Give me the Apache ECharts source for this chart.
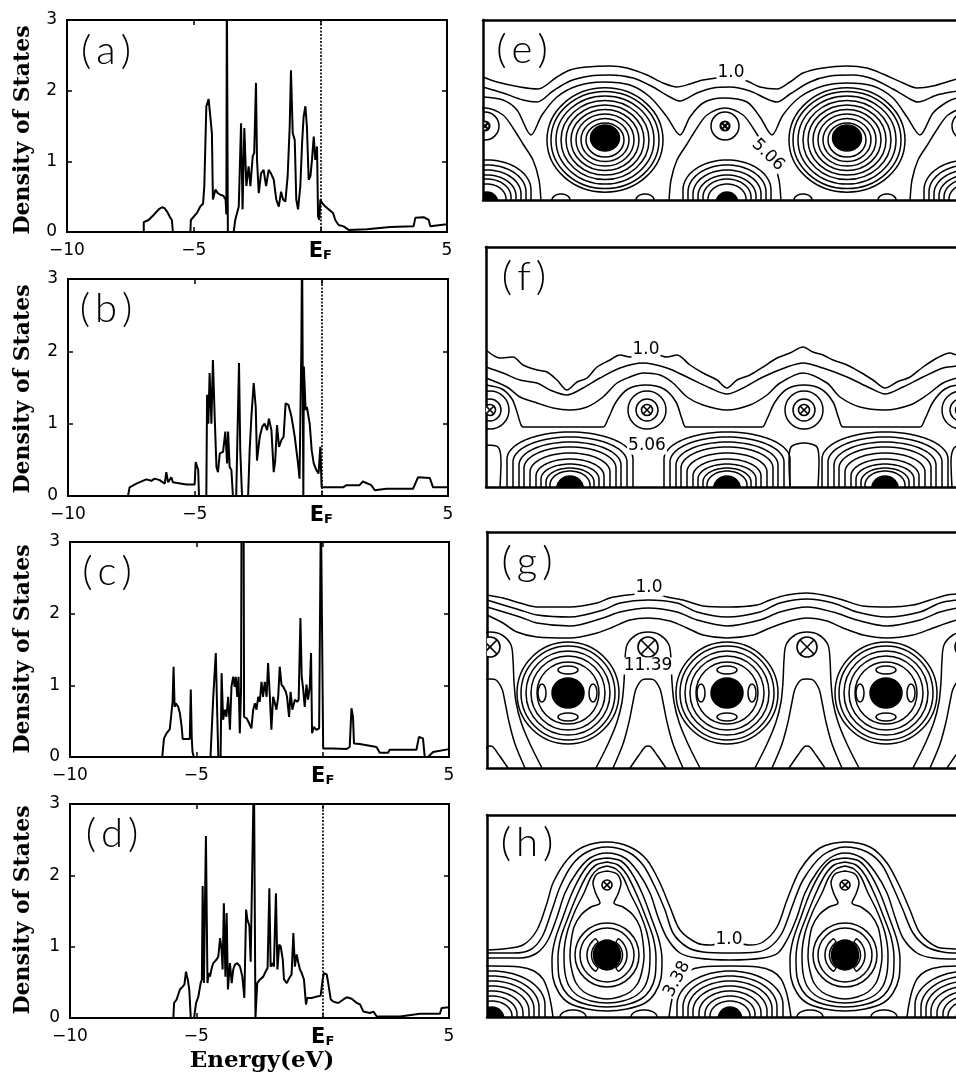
<!DOCTYPE html>
<html>
<head>
<meta charset="utf-8">
<script src="https://cdn.jsdelivr.net/npm/echarts@6/dist/echarts.min.js"></script>
<style>
html,body{margin:0;padding:0;background:#fff}
#chart{width:956px;height:1076px}
</style>
</head>
<body>
<div id="chart"></div>
<script>
// ---------- Density of states, energy measured from E_F (eV) ----------
const energyTicks = [-10, -5, 0, 5];
const energyTickText = ['\u221210', '\u22125', 'EF', '5'];
const dosTicks = [0, 1, 2, 3];
const panelNames = ['(a)', '(b)', '(c)', '(d)', '(e)', '(f)', '(g)', '(h)'];

const dosA = [[-10,0],[-6.97,0],[-6.97,0.14],[-6.78,0.17],[-6.58,0.24],[-6.38,0.32],[-6.25,0.35],[-6.16,0.34],[-6.05,0.29],[-5.92,0.20],[-5.86,0.17],[-5.82,0],[-5.13,0],[-5.11,0.17],[-4.87,0.27],[-4.74,0.36],[-4.63,0.40],[-4.58,0.65],[-4.50,1.78],[-4.41,1.88],[-4.34,1.87],[-4.28,1.40],[-4.24,0.46],[-4.14,0.60],[-4.05,0.55],[-3.95,0.53],[-3.82,0.51],[-3.74,0.46],[-3.71,0.25],[-3.69,3.5],[-3.66,3.5],[-3.65,0],[-3.42,0],[-3.36,0.17],[-3.22,0.36],[-3.13,1.54],[-3.07,0.32],[-3.00,1.47],[-2.92,0.65],[-2.83,0.93],[-2.76,0.65],[-2.67,1.07],[-2.61,1.12],[-2.54,2.11],[-2.50,1.02],[-2.43,0.55],[-2.34,0.83],[-2.24,0.88],[-2.14,0.65],[-2.04,0.88],[-1.95,0.83],[-1.84,0.74],[-1.74,0.46],[-1.64,0.36],[-1.55,0.57],[-1.47,0.46],[-1.38,0.43],[-1.29,0.79],[-1.21,1.49],[-1.16,2.29],[-1.09,1.40],[-1.01,1.30],[-0.95,0.46],[-0.88,0.32],[-0.79,0.65],[-0.72,1.26],[-0.66,1.63],[-0.59,1.78],[-0.53,1.49],[-0.46,0.74],[-0.39,0.79],[-0.33,1.02],[-0.26,1.35],[-0.20,1.02],[-0.13,1.21],[-0.09,0.22],[-0.04,0.17],[0.00,0.46],[0.07,0.41],[0.20,0.36],[0.33,0.32],[0.50,0.27],[0.59,0.17],[0.72,0.10],[0.92,0.08],[1.12,0.03],[1.84,0.04],[2.76,0.07],[3.68,0.08],[3.75,0.20],[4.08,0.21],[4.28,0.17],[4.34,0.08],[5.00,0.11]];

const dosB = [[-10,0],[-7.63,0],[-7.57,0.12],[-7.30,0.17],[-6.91,0.23],[-6.71,0.21],[-6.58,0.24],[-6.38,0.22],[-6.18,0.17],[-6.12,0.33],[-6.05,0.19],[-5.92,0.26],[-5.86,0.19],[-5.79,0.17],[-5.33,0.16],[-5.00,0.16],[-4.96,0.47],[-4.91,0.45],[-4.86,0.36],[-4.83,0],[-4.54,0],[-4.51,1.40],[-4.46,1.00],[-4.41,1.70],[-4.34,1.00],[-4.28,1.88],[-4.21,1.10],[-4.14,0.40],[-4.08,0.33],[-4.01,0.59],[-3.88,0.61],[-3.79,0.89],[-3.72,0.45],[-3.68,0.89],[-3.62,0.40],[-3.55,0.36],[-3.49,0],[-3.36,0],[-3.32,0.68],[-3.25,1.84],[-3.20,0.63],[-3.13,0],[-2.89,0],[-2.83,0.63],[-2.76,1.10],[-2.67,1.56],[-2.59,1.23],[-2.54,0.49],[-2.43,0.82],[-2.33,0.96],[-2.24,1.00],[-2.14,0.91],[-2.07,1.07],[-1.97,0.91],[-1.88,0.33],[-1.82,0.49],[-1.75,0.98],[-1.67,0.68],[-1.58,0.77],[-1.49,0.82],[-1.41,1.28],[-1.30,1.26],[-1.18,1.10],[-1.05,0.82],[-0.92,0.45],[-0.86,0.24],[-0.79,2.02],[-0.76,3.5],[-0.72,3.5],[-0.71,0],[-0.69,1.79],[-0.62,1.19],[-0.57,1.23],[-0.46,1.00],[-0.38,0.63],[-0.30,0.45],[-0.20,0.36],[-0.11,0.31],[-0.04,0.68],[0.01,0.12],[0.86,0.12],[0.99,0.15],[1.51,0.15],[1.64,0.20],[1.97,0.15],[2.11,0.08],[2.57,0.10],[3.62,0.10],[3.82,0.26],[4.28,0.25],[4.41,0.12],[5.00,0.12]];

const dosC = [[-10,0],[-6.35,0],[-6.28,0.26],[-6.18,0.33],[-6.05,0.39],[-5.98,0.40],[-5.94,0.77],[-5.90,1.26],[-5.86,0.70],[-5.81,0.75],[-5.72,0.70],[-5.65,0.61],[-5.58,0.42],[-5.54,0.25],[-5.26,0.25],[-5.22,0.94],[-5.18,0.25],[-5.15,0.07],[-5.10,0],[-4.44,0],[-4.33,0.84],[-4.23,1.45],[-4.17,0.56],[-4.13,0],[-4.04,0],[-4.00,1.17],[-3.94,0.52],[-3.87,0.66],[-3.81,0.56],[-3.74,0.84],[-3.67,0.38],[-3.61,0.98],[-3.54,1.12],[-3.48,0.98],[-3.44,1.12],[-3.38,0.84],[-3.33,1.12],[-3.28,0.33],[-3.23,0.94],[-3.21,3.5],[-3.13,3.5],[-3.11,0.56],[-3.01,0.54],[-2.91,0.47],[-2.82,0.40],[-2.75,0.66],[-2.68,0.75],[-2.62,0.66],[-2.55,0.84],[-2.49,0.77],[-2.42,1.05],[-2.36,0.84],[-2.29,1.05],[-2.22,0.84],[-2.16,1.31],[-2.09,0.84],[-2.03,0.38],[-1.96,0.84],[-1.89,0.75],[-1.83,0.66],[-1.76,0.84],[-1.70,1.26],[-1.63,1.01],[-1.56,0.98],[-1.46,0.91],[-1.41,0.84],[-1.33,0.56],[-1.27,0.91],[-1.20,0.66],[-1.10,0.80],[-1.01,0.77],[-0.95,0.80],[-0.88,1.94],[-0.83,1.12],[-0.77,0.94],[-0.71,0.70],[-0.64,1.01],[-0.58,0.80],[-0.51,0.98],[-0.46,1.45],[-0.42,0.33],[-0.35,0.42],[-0.25,0.38],[-0.14,0.40],[-0.09,0.38],[-0.07,3.5],[0.00,3.5],[0.02,0.12],[0.41,0.12],[0.94,0.11],[1.07,0.14],[1.14,0.68],[1.20,0.56],[1.24,0.19],[1.47,0.18],[2.13,0.14],[2.26,0.06],[2.59,0.06],[2.65,0.10],[3.71,0.10],[3.81,0.28],[3.97,0.26],[4.04,0],[4.17,0],[4.37,0.07],[5.00,0.11]];

const dosD = [[-10,0],[-5.91,0],[-5.88,0.21],[-5.78,0.26],[-5.65,0.40],[-5.54,0.44],[-5.47,0.47],[-5.41,0.65],[-5.34,0.54],[-5.28,0.40],[-5.22,0],[-5.09,0],[-5.01,0.21],[-4.92,0.30],[-4.83,0.49],[-4.78,0.54],[-4.75,1.85],[-4.70,0.49],[-4.66,1.57],[-4.62,2.55],[-4.56,0.49],[-4.51,0.63],[-4.46,0.58],[-4.39,0.70],[-4.33,0.77],[-4.20,0.82],[-4.13,0.86],[-4.06,1.12],[-4.00,0.96],[-3.96,0.68],[-3.91,1.61],[-3.85,0.58],[-3.80,1.47],[-3.75,0.40],[-3.67,0.77],[-3.60,0.49],[-3.54,0.68],[-3.47,0.75],[-3.38,0.77],[-3.27,0.72],[-3.18,0.58],[-3.10,0.28],[-3.03,1.52],[-2.98,1.38],[-2.90,1.29],[-2.85,0.79],[-2.78,0.79],[-2.72,3.5],[-2.68,3.5],[-2.66,0],[-2.59,0.49],[-2.48,0.54],[-2.35,0.58],[-2.26,0.65],[-2.18,0.70],[-2.11,1.82],[-2.06,0.72],[-1.98,0.77],[-1.93,0.72],[-1.85,1.75],[-1.79,0.68],[-1.72,1.03],[-1.66,1.00],[-1.58,0.82],[-1.53,0.54],[-1.42,0.49],[-1.32,0.56],[-1.23,0.61],[-1.16,1.19],[-1.10,0.72],[-1.03,0.89],[-0.96,0.77],[-0.90,0.68],[-0.83,0.63],[-0.74,0.54],[-0.66,0.19],[-0.61,0.28],[-0.44,0.28],[-0.24,0.30],[-0.08,0.31],[0.00,0.54],[0.05,0.63],[0.16,0.61],[0.22,0.49],[0.32,0.26],[0.42,0.23],[0.62,0.21],[0.82,0.26],[0.95,0.29],[1.15,0.27],[1.35,0.21],[1.48,0.19],[1.61,0.09],[1.87,0.07],[2.01,0.09],[2.14,0.02],[3.06,0.02],[3.85,0.06],[4.64,0.06],[4.71,0.14],[5.00,0.15]];

const dosSets = [dosA, dosB, dosC, dosD];
const fermiLineShown = [true, true, false, true];

// ---------- Charge-density maps (in-plane length units, y measured downward) ----------
// (e)
const eBigAtoms = [[122, 118], [364, 118]];
const eRingCentres = [[122, 120], [364, 120]];
const eBigRings = [19, 24, 29, 34, 39, 44, 49, 54, 58];
const eCrossSites = [2, 242, 483];
const eCrossY = 106;
const eBottomSites = [4, 244, 485];
const eArches = [[44, 40, 30], [39, 35, 27], [34, 30, 24], [29, 25, 21], [24, 21, 18], [19, 16, 15]];
const eBumps = [78, 162, 320, 404];
const eL1 = [[0,57],[14,62],[37,67],[55,69],[74,57],[87,50],[104,47],[127,46],[144,48],[164,55],[180,63],[194,67],[207,64],[220,60],[247,57],[264,61],[277,67],[294,69],[307,62],[320,53],[340,48],[364,46],[384,48],[400,54],[420,63],[434,68],[450,66],[474,59],[490,56]];
const eL2 = [[0,67],[20,73],[40,80],[54,82],[70,71],[87,61],[107,56],[127,55],[150,58],[170,67],[187,77],[197,81],[214,73],[230,68],[247,67],[267,71],[284,79],[294,82],[307,74],[327,62],[347,56],[370,55],[390,59],[410,69],[427,79],[435,82],[454,75],[474,71],[490,68]];
const eL3 = [[0,77],[20,80],[34,90],[48,115],[59,95],[74,77],[94,66],[120,62],[147,65],[167,77],[184,97],[197,115],[207,97],[220,83],[240,78],[264,82],[277,97],[289,115],[300,95],[317,77],[340,66],[364,63],[390,66],[410,78],[424,97],[437,115],[450,93],[464,82],[474,78],[490,77]];
const eWrap = [[-56,182],[-54,160],[-48,140],[-38,124],[-28,108],[-18,95],[0,88],[18,95],[28,108],[38,124],[48,140],[54,160],[56,182]];
const eLabels = [[248, 53, '1.0', 0], [285, 135, '5.06', -44]];

// (f)
const fCrossSites = [4, 161, 318, 475];
const fCrossY = 163;
const fCrossRings = [11, 19];
const fBottomSites = [84, 241, 399];
const fArches = [[63, 55, 27], [57, 50, 25], [51, 45, 23], [46, 40, 21], [40, 34, 19], [34, 28, 17], [29, 23, 15], [24, 19, 14], [20, 16, 14]];
const fL1 = [[0,103],[14,111],[27,110],[37,118],[51,123],[61,125],[71,133],[81,143],[91,135],[101,131],[111,120],[124,113],[134,108],[144,110],[160,104],[181,110],[191,108],[204,118],[217,126],[231,133],[241,141],[251,133],[264,128],[277,120],[291,111],[304,106],[317,100],[327,105],[337,108],[347,113],[361,118],[374,125],[387,133],[399,141],[411,135],[424,130],[437,120],[451,111],[464,106],[471,108],[490,104]];
const fL2 = [[0,120],[17,126],[34,133],[51,136],[64,143],[81,148],[97,141],[114,131],[134,121],[157,116],[181,121],[201,130],[224,141],[241,147],[257,141],[277,130],[301,120],[317,116],[337,121],[361,130],[384,141],[399,147],[417,140],[437,130],[457,121],[471,119],[490,118]];
const fL3 = [[0,131],[21,140],[34,150],[51,156],[67,161],[84,163],[101,160],[117,150],[131,136],[144,130],[157,126],[174,128],[187,136],[201,150],[217,158],[241,163],[264,158],[281,148],[294,136],[317,126],[341,136],[354,150],[374,160],[399,163],[424,158],[441,148],[457,136],[471,131],[490,127]];
const fL4 = [[0,138],[16,142],[26,152],[31,165],[34,175],[37,180],[117,180],[122,172],[130,155],[142,142],[160,138],[178,142],[190,155],[196,172],[200,180],[276,180],[281,172],[289,155],[301,142],[318,138],[335,142],[347,155],[353,172],[357,180],[434,180],[439,172],[447,155],[459,142],[475,138],[490,140]];
const fPockets = [
  [[0,198],[12,200],[15,215],[14,240]],
  [[304,240],[303,215],[305,200],[318,196],[331,200],[333,215],[332,240]],
  [[466,240],[465,215],[468,201],[478,197],[490,199]]
];
const fLabels = [[160, 103, '1.0', 0], [161, 199, '5.06', 0]];

// (g)
const gBigSites = [81, 240, 399];
const gBigY = 161;
const gBigRings = [31, 37, 42, 47, 51];
const gLobes = [[0, -23, 10, 4], [0, 24, 10, 4], [-26, 0, 4, 9], [25, 0, 4, 9]];
const gCrossSites = [3, 161, 320, 478];
const gCrossY = 115;
const gL1 = [[0,63],[16,66],[33,71],[50,75],[83,75],[110,71],[123,66],[140,63],[150,62],[162,61],[180,65],[196,68],[216,74],[243,75],[270,73],[283,68],[300,63],[320,61],[336,63],[356,68],[376,74],[403,75],[426,73],[443,68],[460,63],[470,62],[490,60]];
const gL2 = [[0,68],[33,78],[50,83],[83,85],[116,78],[133,71],[161,68],[190,71],[210,80],[240,85],[273,80],[293,71],[320,67],[346,71],[370,80],[400,85],[433,80],[453,71],[470,68],[490,66]];
const gL3 = [[0,75],[33,85],[50,91],[83,94],[116,86],[133,80],[161,76],[190,80],[210,88],[240,94],[273,88],[293,80],[320,75],[346,80],[370,88],[400,94],[433,88],[453,80],[470,76],[490,74]];
const gL4 = [[0,83],[16,91],[30,100],[50,105],[83,106],[110,101],[126,95],[143,88],[161,86],[183,89],[200,96],[216,103],[240,106],[266,103],[283,96],[303,89],[320,86],[340,89],[356,96],[376,103],[400,106],[426,103],[446,96],[463,90],[470,88],[490,85]];
const gArch = [[-52,236],[-40,212],[-31,190],[-26,170],[-24,150],[-23,128],[-21,113],[-12,103],[0,100],[12,103],[21,113],[23,128],[24,150],[26,170],[31,190],[40,212],[52,236]];
const gInner = [[-35,236],[-25,212],[-19,190],[-15,170],[-12,157],[-6,148],[0,147],[6,148],[12,157],[15,170],[19,190],[25,212],[35,236]];
const gPeak = [[-18,236],[-9,223],[-3,215],[0,214],[3,215],[9,223],[18,236]];
const gLabels = [[162, 56, '1.0', 0], [161, 134, '11.39', 0]];

// (h)
const hBigSites = [120, 358];
const hBigY = 140;
const hCrossY = 70;
const hBigRings = [27, 32];
const hBottomSites = [5, 243, 481];
const hArches = [[53, 46, 34], [47, 41, 31], [42, 36, 28], [37, 31, 25], [31, 26, 22], [25, 21, 18], [20, 16, 15]];
const hBumps = [86, 157, 323, 397];
const hL1 = [[0,135],[16,134],[36,130],[50,115],[60,88],[66,68],[80,45],[96,32],[120,27],[143,32],[160,45],[173,68],[183,92],[193,115],[210,128],[223,130],[243,127],[263,130],[276,127],[290,112],[300,85],[313,55],[333,33],[358,27],[383,32],[400,48],[413,72],[423,95],[433,118],[450,132],[470,134],[490,135]];
const hL2 = [[0,138],[26,138],[43,135],[55,122],[65,95],[73,72],[85,50],[100,37],[120,32],[141,37],[156,50],[168,72],[178,95],[186,118],[200,132],[216,137],[243,138],[270,137],[283,132],[295,118],[305,92],[316,65],[336,40],[358,32],[380,37],[395,50],[406,72],[416,95],[426,118],[440,132],[456,137],[470,138],[490,138]];
const hL3 = [[0,143],[33,143],[50,138],[61,125],[70,102],[78,78],[90,57],[103,43],[120,38],[138,43],[151,57],[163,78],[171,102],[180,123],[193,138],[210,143],[243,145],[276,143],[291,138],[301,123],[310,102],[318,78],[330,57],[343,43],[358,38],[375,43],[388,57],[400,78],[408,102],[416,123],[430,138],[446,143],[470,144],[490,144]];
const hBell4 = [[0,43],[14,46],[24,57],[35,78],[44,102],[52,125],[55,145],[54,163],[48,178],[38,188],[20,194],[0,196],[-20,194],[-38,188],[-48,178],[-54,163],[-55,145],[-52,125],[-44,102],[-35,78],[-24,57],[-14,46],[0,43]];
const hBell5 = [[0,47],[11,50],[20,60],[29,78],[38,100],[46,122],[49,143],[48,162],[43,175],[34,184],[18,190],[0,192],[-18,190],[-34,184],[-43,175],[-48,162],[-49,143],[-46,122],[-38,100],[-29,78],[-20,60],[-11,50],[0,47]];
const hBell6 = [[0,51],[9,54],[16,62],[23,78],[32,96],[40,118],[43,140],[42,158],[38,171],[30,180],[16,186],[0,188],[-16,186],[-30,180],[-38,171],[-42,158],[-43,140],[-40,118],[-32,96],[-23,78],[-16,62],[-9,54],[0,51]];
const hKeyhole = [[0,56],[10,59],[14,68],[11,79],[7,88],[16,92],[26,100],[33,112],[36,127],[37,141],[35,156],[31,168],[23,177],[12,182],[0,184],[-12,182],[-23,177],[-31,168],[-35,156],[-37,141],[-36,127],[-33,112],[-26,100],[-16,92],[-7,88],[-11,79],[-14,68],[-10,59],[0,56]];
const hRidge = [[-61,202],[-59,189],[-56,176],[-51,164],[-42,156],[-28,152],[0,151],[28,152],[42,156],[51,164],[56,176],[59,189],[61,202]];
const hLabels = [[242, 125, '1.0', 0], [190, 164, '3.38', 62]];

// ---------- layout ----------
const CANVAS_W = 956;
const dosGrids = [
  {left: 67, top: 20, width: 380, height: 212},
  {left: 68, top: 279, width: 380, height: 217},
  {left: 70, top: 542, width: 379, height: 215},
  {left: 70, top: 804, width: 379, height: 214}
];
// map frames run off the right-hand edge of the page
const mapGrids = [
  {left: 483, top: 20, height: 180},
  {left: 486, top: 247, height: 240},
  {left: 487, top: 532, height: 236},
  {left: 487, top: 815, height: 202}
];

const INK = '#000';
const TICK_FONT = '"DejaVu Sans", "Liberation Sans", sans-serif';
const grid = [], xAxis = [], yAxis = [], series = [];

// DOS panels
dosGrids.forEach((g, i) => {
  grid.push(Object.assign({show: true, borderColor: INK, borderWidth: 2, backgroundColor: 'transparent'}, g));
  const tick = {show: true, inside: true, length: 5, lineStyle: {color: INK, width: 1.5}};
  const xBase = {gridIndex: i, type: 'value', min: -10, max: 5, interval: 5,
    splitLine: {show: false}, axisLine: {show: false, onZero: false}, axisTick: tick};
  xAxis.push(Object.assign({}, xBase, {position: 'bottom',
    axisLabel: {show: true, color: INK, fontSize: 17, fontFamily: TICK_FONT, margin: 10,
      formatter: v => {
        const t = energyTickText[energyTicks.indexOf(v)];
        return t === 'EF' ? '{e|E}{f|F}' : t;
      },
      rich: {
        e: {fontSize: 21, fontWeight: 'bold', fontFamily: TICK_FONT, color: INK, verticalAlign: 'bottom', lineHeight: 20},
        f: {fontSize: 13, fontWeight: 'bold', fontFamily: TICK_FONT, color: INK, verticalAlign: 'bottom', lineHeight: 14}
      }}}));
  xAxis.push(Object.assign({}, xBase, {position: 'top', axisLabel: {show: false}}));
  const yBase = {gridIndex: i, type: 'value', min: dosTicks[0], max: dosTicks[dosTicks.length - 1], interval: 1,
    splitLine: {show: false}, axisLine: {show: false, onZero: false}, axisTick: tick};
  yAxis.push(Object.assign({}, yBase, {position: 'left',
    axisLabel: {show: true, color: INK, fontSize: 17, fontFamily: TICK_FONT, margin: 10}}));
  yAxis.push(Object.assign({}, yBase, {position: 'right', axisLabel: {show: false}}));

  const s = {type: 'line', xAxisIndex: 2 * i, yAxisIndex: 2 * i, data: dosSets[i],
    symbol: 'none', showSymbol: false, clip: true, silent: true, animation: false,
    lineStyle: {color: INK, width: 2}};
  if (fermiLineShown[i]) {
    s.markLine = {silent: true, symbol: ['none', 'none'], label: {show: false}, animation: false,
      lineStyle: {color: INK, type: [2, 1.5], width: 1.6}, data: [{xAxis: 0}]};
  }
  series.push(s);
});

// map panels: frame drawn by axis lines on the top, left and bottom sides only
const frame = {show: true, onZero: false, lineStyle: {color: INK, width: 2.5}};
mapGrids.forEach((g, j) => {
  grid.push({left: g.left, top: g.top, height: g.height, right: 0, show: false});
  const w = CANVAS_W - g.left;
  xAxis.push({gridIndex: 4 + j, type: 'value', min: 0, max: w, position: 'bottom', axisLine: frame,
    axisTick: {show: false}, axisLabel: {show: false}, splitLine: {show: false}});
  xAxis.push({gridIndex: 4 + j, type: 'value', min: 0, max: w, position: 'top', axisLine: frame,
    axisTick: {show: false}, axisLabel: {show: false}, splitLine: {show: false}});
  yAxis.push({gridIndex: 4 + j, type: 'value', min: 0, max: g.height, inverse: true, position: 'left',
    axisLine: frame, axisTick: {show: false}, axisLabel: {show: false}, splitLine: {show: false}});
});
const xIdx = gi => 8 + 2 * gi;
const yIdx = gi => 8 + gi;

function contour(gi, pts, w) {
  return {type: 'line', xAxisIndex: xIdx(gi), yAxisIndex: yIdx(gi), data: pts, symbol: 'none', showSymbol: false,
    smooth: 0.3, clip: true, silent: true, animation: false, z: 3,
    lineStyle: {color: INK, width: w || 1.5}};
}
function shifted(motif, dx) { return motif.map(p => [p[0] + dx, p[1]]); }

function ellipses(gi, items) {
  return {type: 'custom', xAxisIndex: xIdx(gi), yAxisIndex: yIdx(gi), clip: true, silent: true, animation: false, z: 4,
    data: items,
    renderItem(params, api) {
      const c = api.coord([api.value(0), api.value(1)]);
      const s = api.size([api.value(2), api.value(3)]);
      const filled = api.value(4) === 1;
      return {type: 'ellipse', shape: {cx: c[0], cy: c[1], rx: s[0], ry: s[1]},
        style: {fill: filled ? INK : 'none', stroke: INK, lineWidth: 1.5}};
    }};
}

// arch-shaped contours standing on the lower edge: [cx, base, halfWidth, height, capHeight]
function arches(gi, items) {
  return {type: 'custom', xAxisIndex: xIdx(gi), yAxisIndex: yIdx(gi), clip: true, silent: true, animation: false, z: 4,
    data: items,
    renderItem(params, api) {
      const cx = api.value(0), base = api.value(1), r = api.value(2), t = api.value(3), cap = api.value(4);
      const leg = t - cap;
      const pts = [api.coord([cx - r, base + 3]), api.coord([cx - r, base - leg])];
      for (let k = 1; k < 40; k++) {
        const a = Math.PI * k / 40;
        pts.push(api.coord([cx - r * Math.cos(a), base - leg - cap * Math.sin(a)]));
      }
      pts.push(api.coord([cx + r, base - leg]), api.coord([cx + r, base + 3]));
      return {type: 'polyline', shape: {points: pts}, style: {fill: 'none', stroke: INK, lineWidth: 1.5}};
    }};
}

// crossed-circle site markers: [cx, cy, radius, lineWidth]
function crosses(gi, items) {
  return {type: 'custom', xAxisIndex: xIdx(gi), yAxisIndex: yIdx(gi), clip: true, silent: true, animation: false, z: 5,
    data: items,
    renderItem(params, api) {
      const c = api.coord([api.value(0), api.value(1)]);
      const r = api.size([api.value(2), api.value(2)])[0];
      const lw = api.value(3);
      const d = r * 0.72;
      return {type: 'group', children: [
        {type: 'circle', shape: {cx: c[0], cy: c[1], r: r}, style: {fill: '#fff', stroke: INK, lineWidth: lw}},
        {type: 'line', shape: {x1: c[0] - d, y1: c[1] - d, x2: c[0] + d, y2: c[1] + d}, style: {stroke: INK, lineWidth: lw}},
        {type: 'line', shape: {x1: c[0] - d, y1: c[1] + d, x2: c[0] + d, y2: c[1] - d}, style: {stroke: INK, lineWidth: lw}}
      ]};
    }};
}

// bracket-shaped contours beside a core: [cx, cy, side, rOuter, rInner]
function brackets(gi, items) {
  return {type: 'custom', xAxisIndex: xIdx(gi), yAxisIndex: yIdx(gi), clip: true, silent: true, animation: false, z: 4,
    data: items,
    renderItem(params, api) {
      const cx = api.value(0), cy = api.value(1), sd = api.value(2), ro = api.value(3), ri = api.value(4);
      const pts = [];
      for (let k = -10; k <= 10; k++) {
        const a = (k / 10) * 55 * Math.PI / 180;
        pts.push(api.coord([cx + sd * ro * Math.cos(a), cy + ro * Math.sin(a)]));
      }
      for (let k = 10; k >= -10; k--) {
        const a = (k / 10) * 55 * Math.PI / 180;
        pts.push(api.coord([cx + sd * ri * Math.cos(a), cy + ri * Math.sin(a)]));
      }
      return {type: 'polygon', shape: {points: pts, smooth: 0.2}, style: {fill: 'none', stroke: INK, lineWidth: 1.5}};
    }};
}

function contourLabels(gi, labels) {
  return {type: 'custom', xAxisIndex: xIdx(gi), yAxisIndex: yIdx(gi), silent: true, animation: false, z: 10,
    data: labels.map(l => [l[0], l[1]]),
    renderItem(params, api) {
      const l = labels[params.dataIndex];
      const c = api.coord([l[0], l[1]]);
      return {type: 'text', x: c[0], y: c[1], rotation: l[3] * Math.PI / 180,
        style: {text: l[2], font: '17px "DejaVu Sans", sans-serif', fill: INK,
          align: 'center', verticalAlign: 'middle', backgroundColor: '#fff', padding: [0, 1]}};
    }};
}

// ---- (e) ----
[eL1, eL2, eL3].forEach(p => series.push(contour(0, p)));
eCrossSites.forEach(x => series.push(contour(0, shifted(eWrap, x))));
{
  const it = [];
  eRingCentres.forEach(c => eBigRings.forEach(r => it.push([c[0], c[1], r, r * 0.9, 0])));
  eBigAtoms.forEach(c => it.push([c[0], c[1], 14.5, 13, 1]));
  eCrossSites.forEach(x => it.push([x, eCrossY, 14, 14, 0]));
  eBottomSites.forEach(x => it.push([x, 183, 11, 11, 1]));
  series.push(ellipses(0, it));
  const ar = [];
  eBottomSites.forEach(x => eArches.forEach(a => ar.push([x, 180, a[0], a[1], a[2]])));
  eBumps.forEach(x => ar.push([x, 180, 9, 6, 6]));
  series.push(arches(0, ar));
  series.push(crosses(0, eCrossSites.map(x => [x, eCrossY, 4.5, 2.2])));
  series.push(contourLabels(0, eLabels));
}

// ---- (f) ----
[fL1, fL2, fL3, fL4].forEach(p => series.push(contour(1, p)));
fPockets.forEach(p => series.push(contour(1, p)));
{
  const it = [];
  fCrossSites.forEach(x => fCrossRings.forEach(r => it.push([x, fCrossY, r, r, 0])));
  fBottomSites.forEach(x => it.push([x, 242, 13.5, 13, 1]));
  series.push(ellipses(1, it));
  const ar = [];
  fBottomSites.forEach(x => fArches.forEach(a => ar.push([x, 240, a[0], a[1], a[2]])));
  series.push(arches(1, ar));
  series.push(crosses(1, fCrossSites.map(x => [x, fCrossY, 5.5, 1.6])));
  series.push(contourLabels(1, fLabels));
}

// ---- (g) ----
[gL1, gL2, gL3, gL4].forEach(p => series.push(contour(2, p)));
gCrossSites.forEach(x => {
  series.push(contour(2, shifted(gArch, x)));
  series.push(contour(2, shifted(gInner, x)));
  series.push(contour(2, shifted(gPeak, x)));
});
{
  const it = [];
  gBigSites.forEach(x => gBigRings.forEach(r => it.push([x, gBigY, r, r, 0])));
  gBigSites.forEach(x => it.push([x, gBigY, 16, 15, 1]));
  gBigSites.forEach(x => gLobes.forEach(l => it.push([x + l[0], gBigY + l[1], l[2], l[3], 0])));
  series.push(ellipses(2, it));
  series.push(crosses(2, gCrossSites.map(x => [x, gCrossY, 10, 1.6])));
  series.push(contourLabels(2, gLabels));
}

// ---- (h) ----
[hL1, hL2, hL3].forEach(p => series.push(contour(3, p)));
hBigSites.forEach(x => [hBell4, hBell5, hBell6, hKeyhole].forEach(m => series.push(contour(3, shifted(m, x)))));
hBottomSites.forEach(x => series.push(contour(3, shifted(hRidge, x))));
{
  const it = [];
  hBigSites.forEach(x => hBigRings.forEach(r => it.push([x, hBigY, r, r, 0])));
  hBigSites.forEach(x => it.push([x, hBigY, 13.5, 15, 1]));
  hBottomSites.forEach(x => it.push([x, 204, 12, 12, 1]));
  series.push(ellipses(3, it));
  const br = [];
  hBigSites.forEach(x => { br.push([x, hBigY, -1, 20, 15.5]); br.push([x, hBigY, 1, 20, 15.5]); });
  series.push(brackets(3, br));
  const ar = [];
  hBottomSites.forEach(x => hArches.forEach(a => ar.push([x, 202, a[0], a[1], a[2]])));
  hBumps.forEach(x => ar.push([x, 202, 13, 7, 7]));
  series.push(arches(3, ar));
  series.push(crosses(3, hBigSites.map(x => [x, hCrossY, 5, 1.6])));
  series.push(contourLabels(3, hLabels));
}

// ---------- titles and panel letters ----------
const TITLE_FONT = 'bold 22px "DejaVu Serif", "Liberation Serif", serif';
const LETTER_FONT = '300 40px Lato, "Open Sans", "DejaVu Sans", sans-serif';
function txt(x, y, text, font, rot) {
  return {type: 'text', x: x, y: y, rotation: rot || 0, silent: true, z: 20,
    style: {text: text, font: font, fill: INK, align: 'center', verticalAlign: 'middle',
      textAlign: 'center', textVerticalAlign: 'middle'}};
}
const graphic = [];
[130, 389, 649, 910].forEach(y => graphic.push(txt(23, y, 'Density of States', TITLE_FONT, Math.PI / 2)));
graphic.push(txt(262, 1061, 'Energy(eV)', 'bold 23px "DejaVu Serif", "Liberation Serif", serif'));
const letterPos = [[106, 51], [106, 309], [107, 572], [112, 834], [522, 50], [524, 277], [527, 562], [527, 843]];
panelNames.forEach((n, k) => {
  const label = n.replace('(', '(\u2009').replace(')', '\u2009)');
  graphic.push(txt(letterPos[k][0], letterPos[k][1], label, LETTER_FONT));
});

const chart = echarts.init(document.getElementById('chart'), null, {renderer: 'canvas'});
chart.setOption({
  animation: false,
  backgroundColor: '#fff',
  grid: grid,
  xAxis: xAxis,
  yAxis: yAxis,
  series: series,
  graphic: graphic
});
</script>
</body>
</html>
